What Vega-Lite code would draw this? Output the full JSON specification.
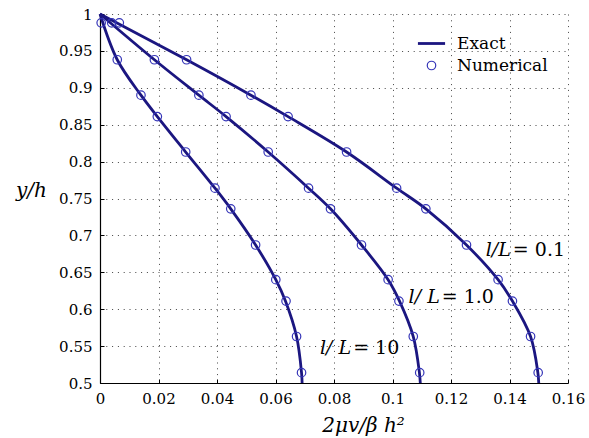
{
  "$schema": "https://vega.github.io/schema/vega-lite/v6.json",
  "width": 468,
  "height": 369,
  "autosize": "none",
  "padding": {"left": 100, "top": 14, "right": 21, "bottom": 55},
  "config": {"view": {"stroke": null}, "font": "DejaVu Serif"},
  "datasets": {
    "exact": [
      {"ratio": "0.1", "kind": "Exact", "x": 0, "y": 1},
      {"ratio": "0.1", "kind": "Exact", "x": 0.0296, "y": 0.938},
      {"ratio": "0.1", "kind": "Exact", "x": 0.0516, "y": 0.89},
      {"ratio": "0.1", "kind": "Exact", "x": 0.0643, "y": 0.861},
      {"ratio": "0.1", "kind": "Exact", "x": 0.0843, "y": 0.813},
      {"ratio": "0.1", "kind": "Exact", "x": 0.1014, "y": 0.764},
      {"ratio": "0.1", "kind": "Exact", "x": 0.1114, "y": 0.736},
      {"ratio": "0.1", "kind": "Exact", "x": 0.1253, "y": 0.687},
      {"ratio": "0.1", "kind": "Exact", "x": 0.1361, "y": 0.64},
      {"ratio": "0.1", "kind": "Exact", "x": 0.141, "y": 0.611},
      {"ratio": "0.1", "kind": "Exact", "x": 0.1472, "y": 0.563},
      {"ratio": "0.1", "kind": "Exact", "x": 0.1497, "y": 0.514},
      {"ratio": "0.1", "kind": "Exact", "x": 0.15, "y": 0.5},
      {"ratio": "1.0", "kind": "Exact", "x": 0, "y": 1},
      {"ratio": "1.0", "kind": "Exact", "x": 0.0186, "y": 0.938},
      {"ratio": "1.0", "kind": "Exact", "x": 0.0338, "y": 0.89},
      {"ratio": "1.0", "kind": "Exact", "x": 0.0431, "y": 0.861},
      {"ratio": "1.0", "kind": "Exact", "x": 0.0575, "y": 0.813},
      {"ratio": "1.0", "kind": "Exact", "x": 0.0713, "y": 0.764},
      {"ratio": "1.0", "kind": "Exact", "x": 0.0788, "y": 0.736},
      {"ratio": "1.0", "kind": "Exact", "x": 0.0894, "y": 0.687},
      {"ratio": "1.0", "kind": "Exact", "x": 0.0985, "y": 0.64},
      {"ratio": "1.0", "kind": "Exact", "x": 0.1024, "y": 0.611},
      {"ratio": "1.0", "kind": "Exact", "x": 0.1071, "y": 0.563},
      {"ratio": "1.0", "kind": "Exact", "x": 0.1092, "y": 0.514},
      {"ratio": "1.0", "kind": "Exact", "x": 0.1095, "y": 0.5},
      {"ratio": "10", "kind": "Exact", "x": 0, "y": 1},
      {"ratio": "10", "kind": "Exact", "x": 0.0059, "y": 0.938},
      {"ratio": "10", "kind": "Exact", "x": 0.014, "y": 0.89},
      {"ratio": "10", "kind": "Exact", "x": 0.0196, "y": 0.861},
      {"ratio": "10", "kind": "Exact", "x": 0.0293, "y": 0.813},
      {"ratio": "10", "kind": "Exact", "x": 0.0393, "y": 0.764},
      {"ratio": "10", "kind": "Exact", "x": 0.0447, "y": 0.736},
      {"ratio": "10", "kind": "Exact", "x": 0.0532, "y": 0.687},
      {"ratio": "10", "kind": "Exact", "x": 0.0601, "y": 0.64},
      {"ratio": "10", "kind": "Exact", "x": 0.0634, "y": 0.611},
      {"ratio": "10", "kind": "Exact", "x": 0.0672, "y": 0.563},
      {"ratio": "10", "kind": "Exact", "x": 0.0689, "y": 0.514},
      {"ratio": "10", "kind": "Exact", "x": 0.0691, "y": 0.5}
    ],
    "numerical": [
      {"ratio": "0.1", "kind": "Numerical", "x": 0.0066, "y": 0.988},
      {"ratio": "0.1", "kind": "Numerical", "x": 0.0296, "y": 0.938},
      {"ratio": "0.1", "kind": "Numerical", "x": 0.0516, "y": 0.89},
      {"ratio": "0.1", "kind": "Numerical", "x": 0.0643, "y": 0.861},
      {"ratio": "0.1", "kind": "Numerical", "x": 0.0843, "y": 0.813},
      {"ratio": "0.1", "kind": "Numerical", "x": 0.1014, "y": 0.764},
      {"ratio": "0.1", "kind": "Numerical", "x": 0.1114, "y": 0.736},
      {"ratio": "0.1", "kind": "Numerical", "x": 0.1253, "y": 0.687},
      {"ratio": "0.1", "kind": "Numerical", "x": 0.1361, "y": 0.64},
      {"ratio": "0.1", "kind": "Numerical", "x": 0.141, "y": 0.611},
      {"ratio": "0.1", "kind": "Numerical", "x": 0.1472, "y": 0.563},
      {"ratio": "0.1", "kind": "Numerical", "x": 0.1498, "y": 0.514},
      {"ratio": "1.0", "kind": "Numerical", "x": 0.004, "y": 0.988},
      {"ratio": "1.0", "kind": "Numerical", "x": 0.0186, "y": 0.938},
      {"ratio": "1.0", "kind": "Numerical", "x": 0.0338, "y": 0.89},
      {"ratio": "1.0", "kind": "Numerical", "x": 0.0431, "y": 0.861},
      {"ratio": "1.0", "kind": "Numerical", "x": 0.0575, "y": 0.813},
      {"ratio": "1.0", "kind": "Numerical", "x": 0.0713, "y": 0.764},
      {"ratio": "1.0", "kind": "Numerical", "x": 0.0788, "y": 0.736},
      {"ratio": "1.0", "kind": "Numerical", "x": 0.0894, "y": 0.687},
      {"ratio": "1.0", "kind": "Numerical", "x": 0.0985, "y": 0.64},
      {"ratio": "1.0", "kind": "Numerical", "x": 0.1022, "y": 0.611},
      {"ratio": "1.0", "kind": "Numerical", "x": 0.1071, "y": 0.563},
      {"ratio": "1.0", "kind": "Numerical", "x": 0.1093, "y": 0.514},
      {"ratio": "10", "kind": "Numerical", "x": 0.0004, "y": 0.988},
      {"ratio": "10", "kind": "Numerical", "x": 0.0059, "y": 0.938},
      {"ratio": "10", "kind": "Numerical", "x": 0.014, "y": 0.89},
      {"ratio": "10", "kind": "Numerical", "x": 0.0196, "y": 0.861},
      {"ratio": "10", "kind": "Numerical", "x": 0.0293, "y": 0.813},
      {"ratio": "10", "kind": "Numerical", "x": 0.0393, "y": 0.764},
      {"ratio": "10", "kind": "Numerical", "x": 0.0447, "y": 0.736},
      {"ratio": "10", "kind": "Numerical", "x": 0.0532, "y": 0.687},
      {"ratio": "10", "kind": "Numerical", "x": 0.0601, "y": 0.64},
      {"ratio": "10", "kind": "Numerical", "x": 0.0636, "y": 0.611},
      {"ratio": "10", "kind": "Numerical", "x": 0.0672, "y": 0.563},
      {"ratio": "10", "kind": "Numerical", "x": 0.0689, "y": 0.514}
    ],
    "labels": [
      {"lhs": "l/L", "rhs": "= 0.1", "x": 0.1408, "y": 0.6805},
      {"lhs": "l/ L", "rhs": "= 1.0", "x": 0.1165, "y": 0.617},
      {"lhs": "l/ L", "rhs": "= 10", "x": 0.0862, "y": 0.5471}
    ]
  },
  "encoding": {
    "x": {
      "field": "x",
      "type": "quantitative",
      "scale": {"domain": [0, 0.16], "nice": false, "zero": false},
      "axis": {
        "values": [0, 0.02, 0.04, 0.06, 0.08, 0.1, 0.12, 0.14, 0.16],
        "format": "~g",
        "labelFont": "DejaVu Serif",
        "labelFontSize": 15,
        "labelColor": "#000000",
        "labelPadding": 12,
        "labelFlush": false,
        "labelOverlap": false,
        "tickSize": -4,
        "tickColor": "#000000",
        "domainColor": "#000000",
        "domainWidth": 1.2,
        "grid": true,
        "gridDash": [1, 4.8],
        "gridColor": "#444444",
        "gridWidth": 1,
        "gridOpacity": 1,
        "title": "2μv/β h²",
        "titleFont": "DejaVu Serif",
        "titleFontStyle": "italic",
        "titleFontWeight": "normal",
        "titleFontSize": 20,
        "titleColor": "#000000",
        "titleX": 263,
        "titleY": 48,
        "titleAlign": "center",
        "titleBaseline": "alphabetic"
      }
    },
    "y": {
      "field": "y",
      "type": "quantitative",
      "scale": {"domain": [0.5, 1], "nice": false, "zero": false},
      "axis": {
        "values": [0.5, 0.55, 0.6, 0.65, 0.7, 0.75, 0.8, 0.85, 0.9, 0.95, 1],
        "format": "~g",
        "labelFont": "DejaVu Serif",
        "labelFontSize": 15,
        "labelColor": "#000000",
        "labelPadding": 12,
        "labelFlush": false,
        "labelOverlap": false,
        "tickSize": -4,
        "tickColor": "#000000",
        "domainColor": "#000000",
        "domainWidth": 1.2,
        "grid": true,
        "gridDash": [1, 4.8],
        "gridColor": "#444444",
        "gridWidth": 1,
        "gridOpacity": 1,
        "title": "y/h",
        "titleFont": "DejaVu Serif",
        "titleFontStyle": "italic",
        "titleFontWeight": "normal",
        "titleFontSize": 20,
        "titleColor": "#000000",
        "titleAngle": 0,
        "titleX": -69,
        "titleY": 176,
        "titleAlign": "center",
        "titleBaseline": "middle"
      }
    }
  },
  "layer": [
    {
      "data": {"name": "exact"},
      "mark": {"type": "line", "interpolate": "catmull-rom"},
      "encoding": {
        "detail": {"field": "ratio", "type": "nominal"},
        "order": {"field": "y", "type": "quantitative", "sort": "descending"},
        "color": {
          "field": "kind",
          "type": "nominal",
          "scale": {"domain": ["Exact", "Numerical"], "range": ["#1b1680", "#3535b8"]},
          "legend": {
            "title": null,
            "orient": "none",
            "legendX": 323,
            "legendY": 21,
            "labelFont": "DejaVu Serif",
            "labelFontSize": 17,
            "labelColor": "#000000",
            "labelOffset": 17,
            "rowPadding": 4,
            "symbolSize": 72
          }
        },
        "strokeWidth": {
          "field": "kind",
          "type": "nominal",
          "scale": {"domain": ["Exact", "Numerical"], "range": [2.8, 1.2]},
          "legend": {
            "title": null,
            "orient": "none",
            "legendX": 323,
            "legendY": 21,
            "labelFont": "DejaVu Serif",
            "labelFontSize": 17,
            "labelColor": "#000000",
            "labelOffset": 17,
            "rowPadding": 4,
            "symbolSize": 72
          }
        }
      }
    },
    {
      "data": {"name": "numerical"},
      "mark": {"type": "point", "filled": false, "size": 72, "opacity": 1},
      "encoding": {
        "color": {"field": "kind", "type": "nominal"},
        "strokeWidth": {"field": "kind", "type": "nominal"},
        "shape": {
          "field": "kind",
          "type": "nominal",
          "scale": {"domain": ["Exact", "Numerical"], "range": ["M-3.2,0L3.2,0", "circle"]},
          "legend": {
            "title": null,
            "orient": "none",
            "legendX": 323,
            "legendY": 21,
            "labelFont": "DejaVu Serif",
            "labelFontSize": 17,
            "labelColor": "#000000",
            "labelOffset": 17,
            "rowPadding": 4,
            "symbolSize": 72
          }
        }
      }
    },
    {
      "data": {"name": "labels"},
      "mark": {"type": "text", "align": "right", "baseline": "middle", "dx": -1, "fontSize": 19, "fontStyle": "italic", "font": "DejaVu Serif", "color": "#000000"},
      "encoding": {"text": {"field": "lhs"}}
    },
    {
      "data": {"name": "labels"},
      "mark": {"type": "text", "align": "left", "baseline": "middle", "dx": 1, "fontSize": 19, "font": "DejaVu Serif", "color": "#000000"},
      "encoding": {"text": {"field": "rhs"}}
    }
  ]
}
